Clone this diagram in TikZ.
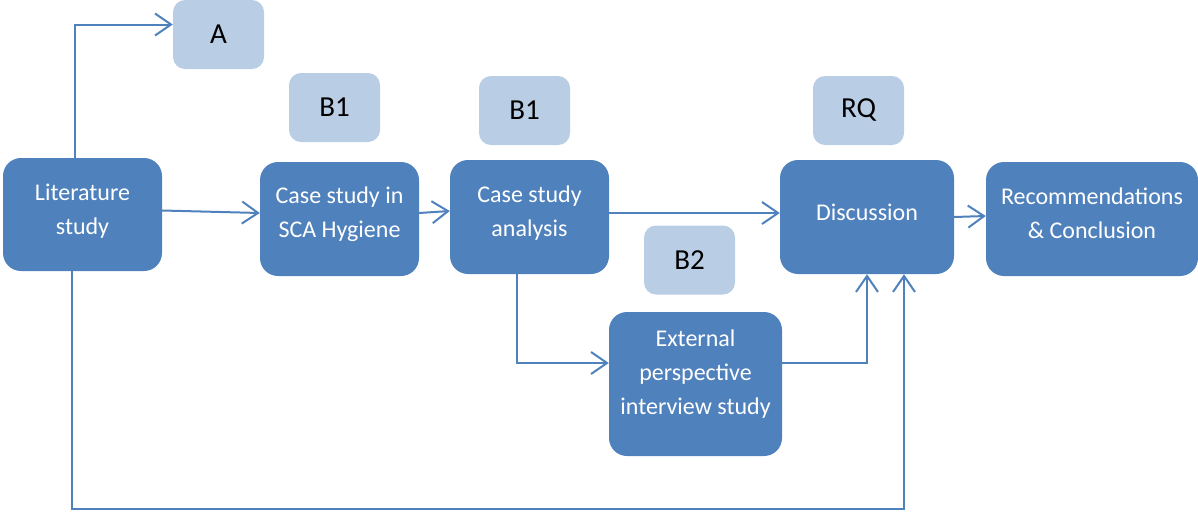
\documentclass[tikz,border=0pt]{standalone}
\usepackage{fontspec}
\setmainfont{Carlito}
\usetikzlibrary{arrows.meta,calc}
\definecolor{boxblue}{HTML}{4F81BD}
\definecolor{tagblue}{HTML}{B9CDE5}
\definecolor{lineblue}{HTML}{4F81BD}
\begin{document}
\begin{tikzpicture}[x=1pt,y=-1pt,
  stepbox/.style={fill=boxblue, rounded corners=18pt, inner sep=0pt},
  tagbox/.style={fill=tagblue, rounded corners=12pt, inner sep=0pt,
    minimum width=91pt, minimum height=69pt,
    font=\fontsize{29}{34}\selectfont, text=black},
  boxtext/.style={text=white, align=center, inner sep=0pt,
    font=\fontsize{24}{34}\selectfont},
  conn/.style={draw=lineblue, line width=2pt,
    -{Straight Barb[length=16pt,width=22pt,line width=2pt]}}
]
\useasboundingbox (0,0) rectangle (1198,512);

% process steps
\node[stepbox, minimum width=159pt, minimum height=113pt] (lit)  at (82.5,214.5) {};
\node[stepbox, minimum width=159pt, minimum height=114pt] (sca)  at (339.5,219) {};
\node[stepbox, minimum width=159pt, minimum height=114pt] (ana)  at (529.5,217) {};
\node[stepbox, minimum width=173pt, minimum height=144pt] (ext)  at (695.5,384) {};
\node[stepbox, minimum width=174pt, minimum height=114pt] (disc) at (867,217) {};
\node[stepbox, minimum width=212pt, minimum height=114pt] (rec)  at (1092,219) {};

\node[boxtext] at ([yshift=3pt]lit.center)  {Literature\\study};
\node[boxtext] at ([yshift=5pt]sca.center)  {Case study in\\SCA Hygiene};
\node[boxtext] at ([yshift=4pt]ana.center)  {Case study\\analysis};
\node[boxtext] at ([yshift=10pt]ext.center) {External\\perspective\\interview study};
\node[boxtext] at ([yshift=5pt]disc.center) {Discussion};
\node[boxtext] at ([yshift=6pt]rec.center)  {Recommendations\\\& Conclusion};

% research question tags
\node[tagbox] (A)   at (218.5,34.5)  {A};
\node[tagbox] (B1a) at (334.5,107.5) {B1};
\node[tagbox] (B1b) at (524.5,110.5) {B1};
\node[tagbox] (B2)  at (689.5,260)   {B2};
\node[tagbox] (RQ)  at (858.5,110.5) {RQ};

% connectors
\coordinate (low) at (72,509);
\draw[conn] ([xshift=-7.5pt]lit.north) |- ([yshift=10pt]A.west);
\draw[conn] ([yshift=4pt]lit.east) -- ([yshift=6pt]sca.west);
\draw[conn] ([yshift=6pt]sca.east) -- ([yshift=6pt]ana.west);
\draw[conn] ([yshift=4pt]ana.east) -- ([yshift=4pt]disc.west);
\draw[conn] ([yshift=0pt]disc.east) -- ([yshift=3pt]rec.west);
\draw[conn] ([xshift=-12.5pt]ana.south) |- ([yshift=21pt]ext.west);
\draw[conn] ([yshift=21pt]ext.east) -| (disc.south);
\draw[conn] (lit.south -| low) -- (low) -| ([xshift=37pt]disc.south);
\end{tikzpicture}
\end{document}
